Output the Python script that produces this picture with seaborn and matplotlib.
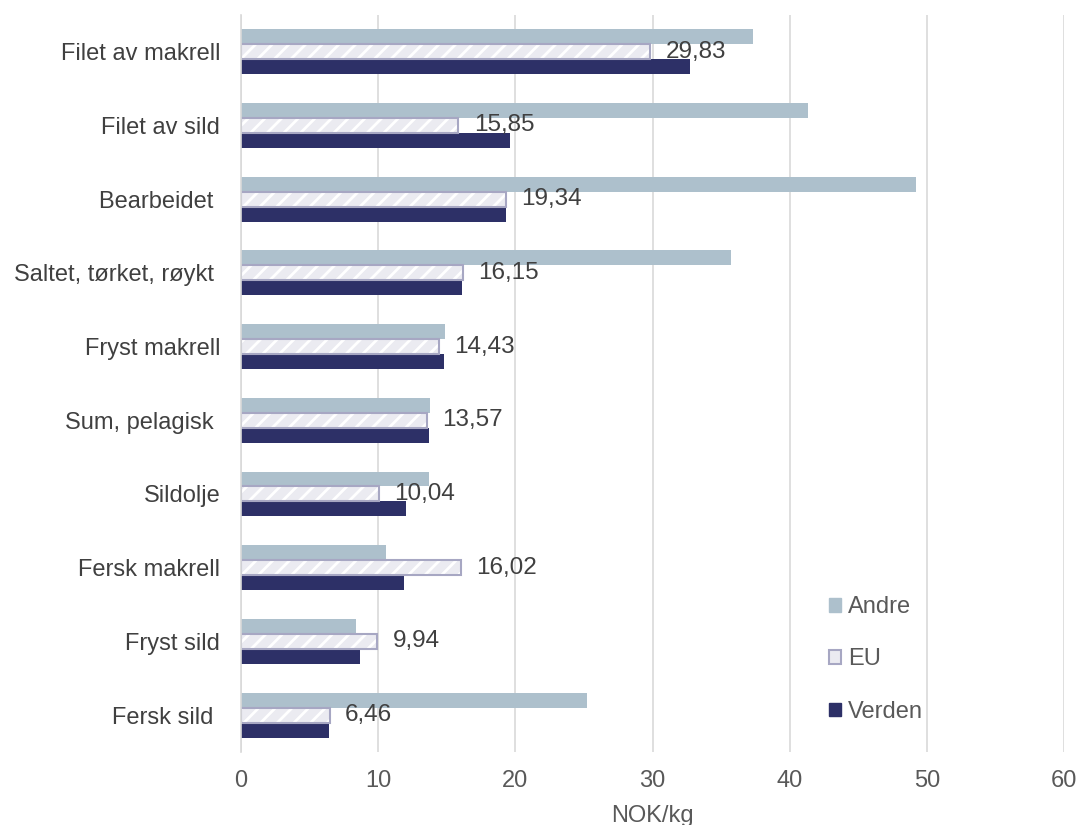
import matplotlib
matplotlib.use("Agg")
import matplotlib.pyplot as plt
from matplotlib.patches import Patch, Rectangle
import seaborn as sns
import pandas as pd

categories = ["Filet av makrell", "Filet av sild", "Bearbeidet ", "Saltet, tørket, røykt ",
              "Fryst makrell", "Sum, pelagisk ", "Sildolje", "Fersk makrell",
              "Fryst sild", "Fersk sild "]
andre = [37.3, 41.3, 49.2, 35.7, 14.9, 13.8, 13.7, 10.6, 8.4, 25.2]
eu = [29.83, 15.85, 19.34, 16.15, 14.43, 13.57, 10.04, 16.02, 9.94, 6.46]
verden = [32.7, 19.6, 19.3, 16.1, 14.8, 13.7, 12.0, 11.9, 8.7, 6.4]
series = ["Andre", "EU", "Verden"]
x_ticks = [0, 10, 20, 30, 40, 50, 60]

sns.set_theme(style="white")
plt.rcParams["font.family"] = ["Liberation Sans", "DejaVu Sans"]
plt.rcParams["hatch.linewidth"] = 2.0

rows = []
for s, vals in zip(series, [andre, eu, verden]):
    for c, v in zip(categories, vals):
        rows.append({"cat": c, "series": s, "val": v})
df = pd.DataFrame(rows)

c_andre = "#adc0cc"
c_eu = "#ebebf1"
c_eu_edge = "#a7a7c3"
c_verden = "#2d3067"
palette = {"Andre": c_andre, "EU": c_eu, "Verden": c_verden}

fig = plt.figure(figsize=(10.78, 8.25), dpi=100)
ax = fig.add_axes([0.2236, 0.0885, 0.7634, 0.8935])

sns.barplot(data=df, x="val", y="cat", hue="series", hue_order=series,
            order=categories, palette=palette, orient="h", width=0.61,
            saturation=1, legend=False, ax=ax, linewidth=0, errorbar=None)

eu_container = ax.containers[1]
for p in eu_container:
    p.set_hatch("//")
    p.set_edgecolor("white")
    p.set_linewidth(0)
    outline = Rectangle(p.get_xy(), p.get_width(), p.get_height(), fill=False,
                        edgecolor=c_eu_edge, linewidth=1.5, zorder=p.get_zorder() + 0.1)
    ax.add_patch(outline)

labels = [f"{v:.2f}".replace(".", ",") for v in eu]
ax.bar_label(eu_container, labels=labels, padding=11, fontsize=17.5, color="#404040")

ax.set_xlim(0, 60)
ax.set_xticks(x_ticks)
ax.set_xticklabels([str(t) for t in x_ticks])
ax.tick_params(axis="x", labelsize=17, labelcolor="#595959", length=0, pad=13)
ax.tick_params(axis="y", labelsize=17, labelcolor="#404040", length=0, pad=15)
ax.grid(axis="x", color="#d9d9d9", linewidth=1.2)
ax.set_axisbelow(True)
for side in ["top", "right", "bottom"]:
    ax.spines[side].set_visible(False)
ax.spines["left"].set_color("#d9d9d9")
ax.spines["left"].set_linewidth(1.2)
ax.set_ylabel("")
ax.set_xlabel("NOK/kg", fontsize=17, color="#595959", labelpad=9)

handles = [Patch(facecolor=c_andre, edgecolor=c_andre, label="Andre"),
           Patch(facecolor=c_eu, edgecolor=c_eu_edge, linewidth=1.5, label="EU"),
           Patch(facecolor=c_verden, edgecolor=c_verden, label="Verden")]
leg = ax.legend(handles=handles, loc="lower left", bbox_to_anchor=(0.703, 0.027),
                frameon=False, fontsize=17, labelspacing=1.28, handlelength=0.5,
                handleheight=0.5, handletextpad=0.3, borderaxespad=0)
for t in leg.get_texts():
    t.set_color("#595959")

fig.savefig("out.png", dpi=100)
